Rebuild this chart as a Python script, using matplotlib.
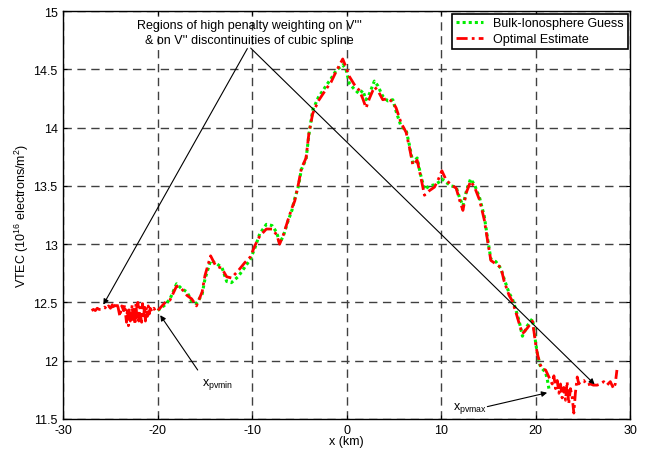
import matplotlib
matplotlib.use("Agg")
import matplotlib.pyplot as plt

plt.rcParams['font.family'] = ['Liberation Sans', 'DejaVu Sans']
plt.rcParams['axes.unicode_minus'] = False
plt.rcParams['mathtext.fontset'] = 'custom'
plt.rcParams['mathtext.rm'] = 'Liberation Sans'

# optimal estimate (red)
x_opt = [-27.0, -26.8, -26.6, -26.4, -26.2, -26.0, -25.8, -25.6, -25.4, -25.2,
         -25.0, -24.8, -24.6, -24.4, -24.2, -24.0, -23.8, -23.6, -23.5, -23.4,
         -23.3, -23.2, -23.1, -23.0, -22.9, -22.8, -22.7, -22.6, -22.5, -22.4,
         -22.3, -22.2, -22.1, -22.0, -21.9, -21.8, -21.7, -21.6, -21.5, -21.4,
         -21.3, -21.2, -21.1, -21.0, -20.9, -20.8, -20.6, -20.4, -20.2, -20.0,
         -19.2, -18.7, -18.0, -17.5, -16.9, -16.4, -15.9, -15.3, -15.0, -14.4,
         -13.9, -13.2, -12.7, -12.2, -11.5, -10.8, -10.2, -9.7, -9.2, -8.5,
         -7.9, -7.4, -7.1, -6.7, -6.2, -5.8, -5.5, -5.1, -4.8, -4.3,
         -4.0, -3.6, -3.0, -2.1, -1.66, -1.13, -0.42, -0.07, 0.28, 0.81,
         1.34, 1.70, 2.05, 2.40, 2.93, 3.29, 3.82, 4.35, 4.88, 5.23,
         5.76, 6.29, 6.64, 7.00, 7.46, 7.81, 8.23, 8.76, 9.29, 9.72,
         10.07, 10.53, 11.06, 11.59, 11.94, 12.30, 12.65, 13.11, 13.53, 14.06,
         14.56, 14.91, 15.26, 15.79, 16.32, 16.67, 17.19, 17.54, 17.89, 18.25,
         18.60, 19.12, 19.65, 19.82, 20.0, 20.18, 20.46, 20.7, 21.05, 21.4,
         21.75, 21.93, 22.1, 22.28, 22.46, 22.63, 22.8, 22.98, 23.16, 23.33,
         23.5, 23.68, 23.86, 24.04, 24.2, 24.4, 24.56, 24.74, 25.1, 25.4,
         25.8, 26.1, 26.5, 26.84, 27.2, 27.54, 27.9, 28.25, 28.42, 28.6]
y_opt = [12.43, 12.44, 12.43, 12.45, 12.44, 12.44, 12.45, 12.46, 12.44, 12.47,
         12.45, 12.48, 12.44, 12.50, 12.46, 12.38, 12.47, 12.43, 12.48, 12.40,
         12.33, 12.45, 12.30, 12.45, 12.34, 12.41, 12.48, 12.33, 12.44, 12.31,
         12.49, 12.36, 12.50, 12.34, 12.46, 12.38, 12.33, 12.49, 12.36, 12.47,
         12.34, 12.46, 12.38, 12.47, 12.40, 12.45, 12.42, 12.45, 12.42, 12.43,
         12.50, 12.52, 12.64, 12.62, 12.56, 12.53, 12.47, 12.59, 12.73, 12.90,
         12.82, 12.79, 12.72, 12.71, 12.77, 12.84, 12.89, 12.99, 13.07, 13.13,
         13.13, 13.08, 13.00, 13.08, 13.21, 13.31, 13.37, 13.52, 13.65, 13.74,
         13.95, 14.12, 14.23, 14.34, 14.39, 14.48, 14.59, 14.52, 14.44, 14.37,
         14.32, 14.25, 14.17, 14.25, 14.35, 14.32, 14.24, 14.25, 14.22, 14.17,
         14.04, 13.96, 13.83, 13.68, 13.72, 13.59, 13.42, 13.46, 13.49, 13.56,
         13.63, 13.55, 13.51, 13.48, 13.38, 13.29, 13.44, 13.54, 13.49, 13.38,
         13.21, 13.03, 12.86, 12.83, 12.80, 12.68, 12.56, 12.51, 12.42, 12.32,
         12.23, 12.28, 12.34, 12.25, 12.14, 12.06, 11.97, 11.93, 11.92, 11.86,
         11.80, 11.87, 11.76, 11.83, 11.72, 11.80, 11.68, 11.77, 11.66, 11.82,
         11.63, 11.76, 11.69, 11.55, 11.72, 11.86, 11.80, 11.82, 11.83, 11.79,
         11.80, 11.79, 11.79, 11.80, 11.82, 11.79, 11.82, 11.76, 11.80, 11.92]

# bulk-ionosphere guess (green)
x_guess = [-20.0, -19.2, -18.7, -18.0, -17.5, -16.9, -16.4, -15.9, -15.3, -15.0,
           -14.4, -13.9, -13.2, -12.7, -12.2, -11.5, -10.8, -10.2, -9.7, -9.2,
           -8.5, -7.9, -7.4, -7.1, -6.7, -6.2, -5.8, -5.5, -5.1, -4.8,
           -4.3, -4.0, -3.6, -3.0, -2.1, -1.66, -1.13, -0.42, -0.07, 0.28,
           0.81, 1.34, 1.70, 2.05, 2.40, 2.93, 3.29, 3.82, 4.35, 4.88,
           5.23, 5.76, 6.29, 6.64, 7.00, 7.46, 7.81, 8.23, 8.76, 9.29,
           9.72, 10.07, 10.53, 11.06, 11.59, 11.94, 12.30, 12.65, 13.11, 13.53,
           14.06, 14.56, 14.91, 15.26, 15.79, 16.32, 16.67, 17.19, 17.54, 17.89,
           18.25, 18.60, 19.12, 19.65, 19.82, 20.0, 20.18, 20.46, 20.7, 21.05,
           21.25, 21.4]
y_guess = [12.43, 12.48, 12.53, 12.66, 12.62, 12.59, 12.51, 12.49, 12.57, 12.70,
           12.86, 12.84, 12.80, 12.68, 12.67, 12.72, 12.80, 12.87, 12.97, 13.09,
           13.17, 13.16, 13.10, 13.01, 13.07, 13.20, 13.29, 13.39, 13.50, 13.64,
           13.73, 13.94, 14.15, 14.26, 14.37, 14.42, 14.49, 14.54, 14.50, 14.38,
           14.33, 14.29, 14.32, 14.24, 14.29, 14.40, 14.36, 14.27, 14.23, 14.24,
           14.14, 14.01, 13.98, 13.85, 13.70, 13.74, 13.60, 13.47, 13.50, 13.51,
           13.53, 13.56, 13.53, 13.50, 13.49, 13.40, 13.33, 13.45, 13.56, 13.51,
           13.40, 13.24, 13.05, 12.87, 12.85, 12.79, 12.70, 12.58, 12.53, 12.44,
           12.34, 12.21, 12.30, 12.36, 12.28, 12.15, 12.06, 11.96, 11.93, 11.90,
           11.83, 11.76]

fig = plt.figure(figsize=(6.45, 4.52), dpi=100)
ax = fig.add_axes([0.098, 0.071, 0.879, 0.902])

ax.plot(x_guess, y_guess, color='#00ee00', linestyle=(0, (1, 1)), lw=2.2,
        label='Bulk-Ionosphere Guess')
ax.plot(x_opt, y_opt, color='red', linestyle=(0, (4, 1.5, 1, 1.5)), lw=2.0,
        label='Optimal Estimate')

ax.set_xlim(-30, 30)
ax.set_ylim(11.5, 15)
ax.set_xticks([-30, -20, -10, 0, 10, 20, 30])
ax.set_yticks([11.5, 12, 12.5, 13, 13.5, 14, 14.5, 15])
ax.set_yticklabels(['11.5', '12', '12.5', '13', '13.5', '14', '14.5', '15'])
ax.grid(True, color='0.25', linestyle=(0, (6, 4)), lw=1)
ax.tick_params(direction='in', top=True, right=True, labelsize=9, length=3)
ax.tick_params(axis='x', pad=4)
ax.tick_params(axis='y', pad=4)
for s in ax.spines.values():
    s.set_linewidth(1.0)

ax.set_xlabel('x (km)', fontsize=9, labelpad=-1)
ax.set_ylabel('VTEC (10$^{16}$ electrons/m$^{2}$)', fontsize=9, labelpad=2)

leg = ax.legend(loc='upper right', fontsize=9, fancybox=False, framealpha=1,
                edgecolor='black', borderaxespad=0.2, handlelength=2.2,
                borderpad=0.3, labelspacing=0.3)
leg.get_frame().set_linewidth(1.2)

# annotations
ax.text(-10.3, 14.82, "Regions of high penalty weighting on V'''\n& on V'' discontinuities of cubic spline",
        ha='center', va='center', fontsize=9, linespacing=1.35)
arw = dict(arrowstyle='-|>', color='black', lw=0.8, mutation_scale=8)
ax.annotate('', xy=(-25.9, 12.46), xytext=(-10.37, 14.70), arrowprops=arw)
ax.annotate('', xy=(26.45, 11.78), xytext=(-10.37, 14.70), arrowprops=arw)
ax.annotate('', xy=(-19.9, 12.41), xytext=(-15.6, 11.90), arrowprops=arw)
ax.annotate('', xy=(21.5, 11.73), xytext=(14.6, 11.60), arrowprops=arw)
ax.text(-15.3, 11.80, r'x$_{\mathrm{pvmin}}$', fontsize=9, ha='left', va='center')
ax.text(11.2, 11.60, r'x$_{\mathrm{pvmax}}$', fontsize=9, ha='left', va='center')

fig.savefig('out.png', dpi=100)
